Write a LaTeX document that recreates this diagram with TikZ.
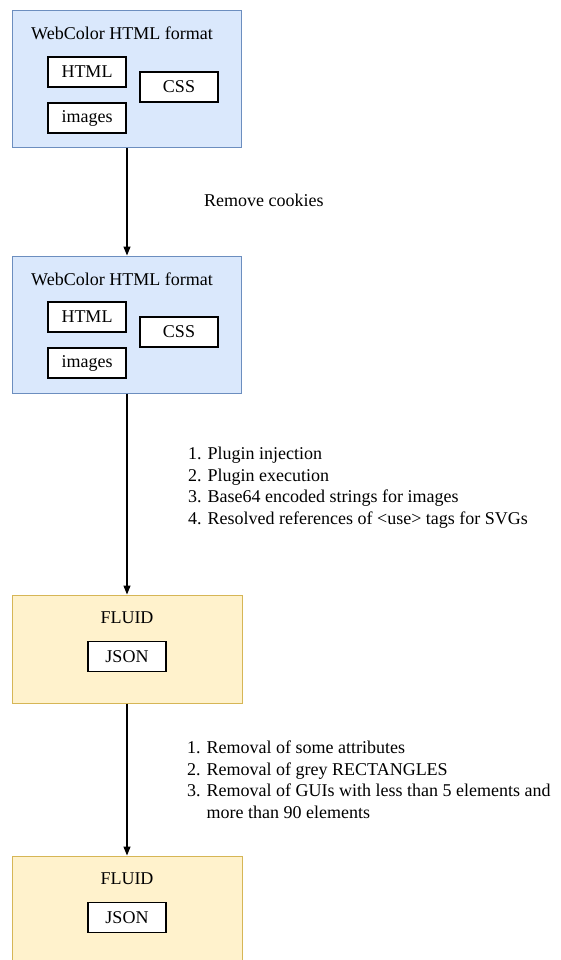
\documentclass[tikz,border=0pt]{standalone}
\usepackage{fontspec}
\setmainfont{Liberation Serif}
\definecolor{webfill}{HTML}{DAE8FC}
\definecolor{webline}{HTML}{6C8EBF}
\definecolor{fluidfill}{HTML}{FFF2CC}
\definecolor{fluidline}{HTML}{D6B656}
\usetikzlibrary{arrows.meta, positioning}

\begin{document}
\begin{tikzpicture}[
  x=1pt, y=-1pt,
  font=\fontsize{18}{21.5}\selectfont,
  webbox/.style={draw=webline, fill=webfill, line width=1pt, minimum width=229pt, minimum height=137pt, inner sep=0pt},
  fluidbox/.style={draw=fluidline, fill=fluidfill, line width=1pt, minimum width=230pt, minimum height=108pt, inner sep=0pt},
  inbox/.style={draw=black, fill=white, line width=1.2pt, minimum width=78pt, minimum height=30pt, inner sep=0pt},
  steptext/.style={align=left, anchor=west, inner sep=0pt},
  flow/.style={-{Triangle[length=9pt, width=7pt]}, line width=1.3pt}
]
  \clip (0,0) rectangle (560,960);
  \fill[white] (0,0) rectangle (560,960);

  \node[webbox] (web1) at (127, 79.5) {};
  \node (web1title) at (122, 33) {WebColor HTML format};
  \node[inbox] (web1html) at (87, 72) {HTML};
  \node[inbox] (web1img) at (87, 118) {images};
  \node[inbox] (web1css) at (179, 87) {CSS};

  \node[webbox] (web2) at (127, 324.5) {};
  \node (web2title) at (122, 279) {WebColor HTML format};
  \node[inbox] (web2html) at (87, 317) {HTML};
  \node[inbox] (web2img) at (87, 363) {images};
  \node[inbox] (web2css) at (179, 332) {CSS};

  \node[fluidbox] (fluid1) at (127, 649) {};
  \node (fluid1title) at (127, 618) {FLUID};
  \node[inbox] (fluid1json) at (127, 656.5) {JSON};

  \node[fluidbox] (fluid2) at (127, 910) {};
  \node (fluid2title) at (127, 879) {FLUID};
  \node[inbox] (fluid2json) at (127, 917.5) {JSON};

  \draw[flow] (web1) -- (web2);
  \draw[flow] (web2) -- (fluid1);
  \draw[flow] (fluid1) -- (fluid2);

  \node[steptext] (cookies) at (204, 200) {Remove cookies};
  \node[steptext] (plugin) at (188, 487.5) {1. Plugin injection\\2. Plugin execution\\3. Base64 encoded strings for images\\4. Resolved references of <use> tags for SVGs};
  \node[steptext] (removal) at (187, 780) {1. Removal of some attributes\\2. Removal of grey RECTANGLES\\3. Removal of GUIs with less than 5 elements and\\\phantom{3. }more than 90 elements};
\end{tikzpicture}
\end{document}
